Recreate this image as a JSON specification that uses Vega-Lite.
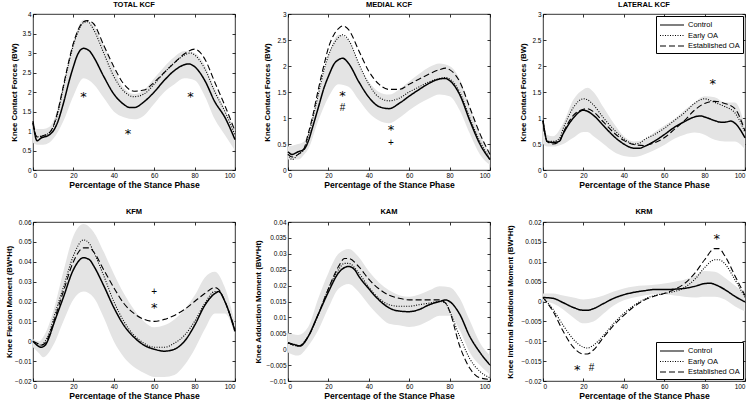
{
"$schema": "https://vega.github.io/schema/vega-lite/v6.json",
"padding": {"left": 4, "top": 0, "right": 0, "bottom": 0},
"config": {
  "font": "Liberation Sans",
  "view": {"stroke": "black", "strokeWidth": 0.8},
  "text": {"color": "black"},
  "axis": {"grid": false, "domain": false, "tickColor": "black", "tickSize": -3, "tickWidth": 0.8, "labelPadding": 5, "labelFontSize": 6.5, "labelColor": "black", "titleFontSize": 7.8, "titleFontWeight": "bold", "titleColor": "black", "labelFont": "Liberation Sans", "titleFont": "Liberation Sans"},
  "axisX": {"titleFontSize": 8.6, "titlePadding": 1.5},
  "title": {"fontSize": 7.5, "fontWeight": "bold", "offset": 3, "color": "black", "font": "Liberation Sans"},
  "legend": {"offset": 2, "strokeColor": "black", "fillColor": "white", "padding": 3, "symbolType": "M-2.4,0H2.4", "symbolSize": 100, "symbolOffset": 7, "symbolStrokeColor": "black", "symbolStrokeWidth": 1.2, "labelFontSize": 7.5, "rowPadding": 0.5, "labelOffset": 10, "cornerRadius": 0, "labelColor": "black"}
},
"datasets": {
"lines": [
{"p":"T","s":"C","x":0,"y":1.25},{"p":"T","s":"C","x":1,"y":0.9},{"p":"T","s":"C","x":2,"y":0.75},{"p":"T","s":"C","x":4,"y":0.82},{"p":"T","s":"C","x":8,"y":0.9},{"p":"T","s":"C","x":10,"y":1.0},{"p":"T","s":"C","x":12,"y":1.2},{"p":"T","s":"C","x":15,"y":1.7},{"p":"T","s":"C","x":18,"y":2.3},{"p":"T","s":"C","x":20,"y":2.65},{"p":"T","s":"C","x":22,"y":2.95},{"p":"T","s":"C","x":25,"y":3.12},{"p":"T","s":"C","x":28,"y":3.05},{"p":"T","s":"C","x":30,"y":2.9},{"p":"T","s":"C","x":35,"y":2.4},{"p":"T","s":"C","x":40,"y":1.95},{"p":"T","s":"C","x":45,"y":1.68},{"p":"T","s":"C","x":48,"y":1.6},{"p":"T","s":"C","x":50,"y":1.6},{"p":"T","s":"C","x":55,"y":1.75},{"p":"T","s":"C","x":60,"y":2.0},{"p":"T","s":"C","x":65,"y":2.3},{"p":"T","s":"C","x":70,"y":2.55},{"p":"T","s":"C","x":75,"y":2.7},{"p":"T","s":"C","x":77,"y":2.72},{"p":"T","s":"C","x":80,"y":2.65},{"p":"T","s":"C","x":85,"y":2.3},{"p":"T","s":"C","x":90,"y":1.75},{"p":"T","s":"C","x":95,"y":1.35},{"p":"T","s":"C","x":100,"y":0.78},
{"p":"T","s":"E","x":0,"y":1.2},{"p":"T","s":"E","x":1,"y":0.95},{"p":"T","s":"E","x":2,"y":0.85},{"p":"T","s":"E","x":5,"y":0.88},{"p":"T","s":"E","x":8,"y":0.95},{"p":"T","s":"E","x":10,"y":1.1},{"p":"T","s":"E","x":12,"y":1.4},{"p":"T","s":"E","x":15,"y":2.1},{"p":"T","s":"E","x":18,"y":2.8},{"p":"T","s":"E","x":20,"y":3.2},{"p":"T","s":"E","x":22,"y":3.5},{"p":"T","s":"E","x":25,"y":3.78},{"p":"T","s":"E","x":27,"y":3.8},{"p":"T","s":"E","x":30,"y":3.6},{"p":"T","s":"E","x":35,"y":3.0},{"p":"T","s":"E","x":40,"y":2.4},{"p":"T","s":"E","x":45,"y":2.02},{"p":"T","s":"E","x":50,"y":1.88},{"p":"T","s":"E","x":55,"y":1.95},{"p":"T","s":"E","x":60,"y":2.2},{"p":"T","s":"E","x":65,"y":2.5},{"p":"T","s":"E","x":70,"y":2.75},{"p":"T","s":"E","x":75,"y":2.95},{"p":"T","s":"E","x":78,"y":3.0},{"p":"T","s":"E","x":80,"y":2.95},{"p":"T","s":"E","x":85,"y":2.6},{"p":"T","s":"E","x":90,"y":2.0},{"p":"T","s":"E","x":95,"y":1.5},{"p":"T","s":"E","x":100,"y":0.9},
{"p":"T","s":"D","x":0,"y":1.2},{"p":"T","s":"D","x":1,"y":0.95},{"p":"T","s":"D","x":2,"y":0.85},{"p":"T","s":"D","x":5,"y":0.88},{"p":"T","s":"D","x":8,"y":0.95},{"p":"T","s":"D","x":10,"y":1.12},{"p":"T","s":"D","x":12,"y":1.45},{"p":"T","s":"D","x":15,"y":2.15},{"p":"T","s":"D","x":18,"y":2.85},{"p":"T","s":"D","x":20,"y":3.25},{"p":"T","s":"D","x":22,"y":3.55},{"p":"T","s":"D","x":25,"y":3.8},{"p":"T","s":"D","x":27,"y":3.83},{"p":"T","s":"D","x":30,"y":3.75},{"p":"T","s":"D","x":35,"y":3.2},{"p":"T","s":"D","x":40,"y":2.65},{"p":"T","s":"D","x":45,"y":2.2},{"p":"T","s":"D","x":50,"y":2.02},{"p":"T","s":"D","x":55,"y":2.05},{"p":"T","s":"D","x":60,"y":2.25},{"p":"T","s":"D","x":65,"y":2.5},{"p":"T","s":"D","x":70,"y":2.75},{"p":"T","s":"D","x":75,"y":2.98},{"p":"T","s":"D","x":80,"y":3.1},{"p":"T","s":"D","x":82,"y":3.05},{"p":"T","s":"D","x":85,"y":2.85},{"p":"T","s":"D","x":90,"y":2.25},{"p":"T","s":"D","x":95,"y":1.65},{"p":"T","s":"D","x":100,"y":1.0},
{"p":"M","s":"C","x":0,"y":0.35},{"p":"M","s":"C","x":2,"y":0.3},{"p":"M","s":"C","x":5,"y":0.35},{"p":"M","s":"C","x":8,"y":0.4},{"p":"M","s":"C","x":10,"y":0.55},{"p":"M","s":"C","x":12,"y":0.8},{"p":"M","s":"C","x":15,"y":1.2},{"p":"M","s":"C","x":18,"y":1.6},{"p":"M","s":"C","x":20,"y":1.8},{"p":"M","s":"C","x":23,"y":2.05},{"p":"M","s":"C","x":25,"y":2.12},{"p":"M","s":"C","x":27,"y":2.15},{"p":"M","s":"C","x":30,"y":2.05},{"p":"M","s":"C","x":35,"y":1.7},{"p":"M","s":"C","x":40,"y":1.4},{"p":"M","s":"C","x":45,"y":1.22},{"p":"M","s":"C","x":50,"y":1.18},{"p":"M","s":"C","x":55,"y":1.28},{"p":"M","s":"C","x":60,"y":1.42},{"p":"M","s":"C","x":65,"y":1.55},{"p":"M","s":"C","x":70,"y":1.67},{"p":"M","s":"C","x":75,"y":1.75},{"p":"M","s":"C","x":78,"y":1.76},{"p":"M","s":"C","x":80,"y":1.72},{"p":"M","s":"C","x":85,"y":1.45},{"p":"M","s":"C","x":90,"y":0.95},{"p":"M","s":"C","x":95,"y":0.5},{"p":"M","s":"C","x":100,"y":0.2},
{"p":"M","s":"E","x":0,"y":0.3},{"p":"M","s":"E","x":2,"y":0.2},{"p":"M","s":"E","x":5,"y":0.3},{"p":"M","s":"E","x":8,"y":0.4},{"p":"M","s":"E","x":10,"y":0.65},{"p":"M","s":"E","x":12,"y":0.95},{"p":"M","s":"E","x":15,"y":1.45},{"p":"M","s":"E","x":18,"y":1.95},{"p":"M","s":"E","x":20,"y":2.2},{"p":"M","s":"E","x":23,"y":2.45},{"p":"M","s":"E","x":25,"y":2.55},{"p":"M","s":"E","x":27,"y":2.6},{"p":"M","s":"E","x":30,"y":2.5},{"p":"M","s":"E","x":35,"y":2.05},{"p":"M","s":"E","x":40,"y":1.65},{"p":"M","s":"E","x":45,"y":1.4},{"p":"M","s":"E","x":50,"y":1.33},{"p":"M","s":"E","x":55,"y":1.38},{"p":"M","s":"E","x":60,"y":1.5},{"p":"M","s":"E","x":65,"y":1.6},{"p":"M","s":"E","x":70,"y":1.7},{"p":"M","s":"E","x":75,"y":1.76},{"p":"M","s":"E","x":78,"y":1.78},{"p":"M","s":"E","x":80,"y":1.75},{"p":"M","s":"E","x":85,"y":1.5},{"p":"M","s":"E","x":90,"y":1.0},{"p":"M","s":"E","x":95,"y":0.55},{"p":"M","s":"E","x":100,"y":0.22},
{"p":"M","s":"D","x":0,"y":0.3},{"p":"M","s":"D","x":2,"y":0.25},{"p":"M","s":"D","x":5,"y":0.3},{"p":"M","s":"D","x":8,"y":0.42},{"p":"M","s":"D","x":10,"y":0.7},{"p":"M","s":"D","x":12,"y":1.0},{"p":"M","s":"D","x":15,"y":1.55},{"p":"M","s":"D","x":18,"y":2.05},{"p":"M","s":"D","x":20,"y":2.35},{"p":"M","s":"D","x":23,"y":2.62},{"p":"M","s":"D","x":25,"y":2.72},{"p":"M","s":"D","x":27,"y":2.77},{"p":"M","s":"D","x":30,"y":2.7},{"p":"M","s":"D","x":35,"y":2.3},{"p":"M","s":"D","x":40,"y":1.9},{"p":"M","s":"D","x":45,"y":1.65},{"p":"M","s":"D","x":50,"y":1.55},{"p":"M","s":"D","x":55,"y":1.55},{"p":"M","s":"D","x":60,"y":1.65},{"p":"M","s":"D","x":65,"y":1.75},{"p":"M","s":"D","x":70,"y":1.85},{"p":"M","s":"D","x":75,"y":1.93},{"p":"M","s":"D","x":78,"y":1.96},{"p":"M","s":"D","x":80,"y":1.93},{"p":"M","s":"D","x":85,"y":1.7},{"p":"M","s":"D","x":90,"y":1.2},{"p":"M","s":"D","x":95,"y":0.7},{"p":"M","s":"D","x":100,"y":0.3},
{"p":"L","s":"C","x":0,"y":0.95},{"p":"L","s":"C","x":1,"y":0.7},{"p":"L","s":"C","x":2,"y":0.55},{"p":"L","s":"C","x":5,"y":0.53},{"p":"L","s":"C","x":8,"y":0.55},{"p":"L","s":"C","x":10,"y":0.7},{"p":"L","s":"C","x":15,"y":1.0},{"p":"L","s":"C","x":20,"y":1.15},{"p":"L","s":"C","x":22,"y":1.13},{"p":"L","s":"C","x":25,"y":1.05},{"p":"L","s":"C","x":30,"y":0.85},{"p":"L","s":"C","x":35,"y":0.65},{"p":"L","s":"C","x":40,"y":0.5},{"p":"L","s":"C","x":45,"y":0.42},{"p":"L","s":"C","x":48,"y":0.42},{"p":"L","s":"C","x":50,"y":0.45},{"p":"L","s":"C","x":55,"y":0.55},{"p":"L","s":"C","x":60,"y":0.68},{"p":"L","s":"C","x":65,"y":0.82},{"p":"L","s":"C","x":70,"y":0.93},{"p":"L","s":"C","x":75,"y":1.02},{"p":"L","s":"C","x":78,"y":1.04},{"p":"L","s":"C","x":80,"y":1.02},{"p":"L","s":"C","x":85,"y":0.95},{"p":"L","s":"C","x":88,"y":0.92},{"p":"L","s":"C","x":90,"y":0.92},{"p":"L","s":"C","x":93,"y":0.94},{"p":"L","s":"C","x":95,"y":0.9},{"p":"L","s":"C","x":100,"y":0.62},
{"p":"L","s":"E","x":0,"y":0.95},{"p":"L","s":"E","x":1,"y":0.7},{"p":"L","s":"E","x":2,"y":0.55},{"p":"L","s":"E","x":5,"y":0.55},{"p":"L","s":"E","x":8,"y":0.6},{"p":"L","s":"E","x":10,"y":0.8},{"p":"L","s":"E","x":15,"y":1.2},{"p":"L","s":"E","x":20,"y":1.37},{"p":"L","s":"E","x":22,"y":1.35},{"p":"L","s":"E","x":25,"y":1.25},{"p":"L","s":"E","x":30,"y":1.0},{"p":"L","s":"E","x":35,"y":0.78},{"p":"L","s":"E","x":40,"y":0.6},{"p":"L","s":"E","x":45,"y":0.5},{"p":"L","s":"E","x":48,"y":0.52},{"p":"L","s":"E","x":50,"y":0.58},{"p":"L","s":"E","x":55,"y":0.68},{"p":"L","s":"E","x":60,"y":0.8},{"p":"L","s":"E","x":65,"y":0.95},{"p":"L","s":"E","x":70,"y":1.1},{"p":"L","s":"E","x":75,"y":1.28},{"p":"L","s":"E","x":80,"y":1.37},{"p":"L","s":"E","x":82,"y":1.35},{"p":"L","s":"E","x":85,"y":1.3},{"p":"L","s":"E","x":90,"y":1.22},{"p":"L","s":"E","x":95,"y":1.1},{"p":"L","s":"E","x":100,"y":0.72},
{"p":"L","s":"D","x":0,"y":0.95},{"p":"L","s":"D","x":1,"y":0.7},{"p":"L","s":"D","x":2,"y":0.55},{"p":"L","s":"D","x":5,"y":0.5},{"p":"L","s":"D","x":8,"y":0.55},{"p":"L","s":"D","x":10,"y":0.72},{"p":"L","s":"D","x":15,"y":1.05},{"p":"L","s":"D","x":20,"y":1.17},{"p":"L","s":"D","x":22,"y":1.18},{"p":"L","s":"D","x":25,"y":1.12},{"p":"L","s":"D","x":30,"y":0.92},{"p":"L","s":"D","x":35,"y":0.72},{"p":"L","s":"D","x":40,"y":0.57},{"p":"L","s":"D","x":45,"y":0.49},{"p":"L","s":"D","x":50,"y":0.47},{"p":"L","s":"D","x":55,"y":0.52},{"p":"L","s":"D","x":60,"y":0.62},{"p":"L","s":"D","x":65,"y":0.78},{"p":"L","s":"D","x":70,"y":0.95},{"p":"L","s":"D","x":75,"y":1.15},{"p":"L","s":"D","x":80,"y":1.28},{"p":"L","s":"D","x":85,"y":1.32},{"p":"L","s":"D","x":90,"y":1.28},{"p":"L","s":"D","x":95,"y":1.18},{"p":"L","s":"D","x":100,"y":0.75},
{"p":"F","s":"C","x":0,"y":0},{"p":"F","s":"C","x":2,"y":-0.002},{"p":"F","s":"C","x":4,"y":-0.003},{"p":"F","s":"C","x":6,"y":-0.002},{"p":"F","s":"C","x":8,"y":0.002},{"p":"F","s":"C","x":10,"y":0.008},{"p":"F","s":"C","x":15,"y":0.022},{"p":"F","s":"C","x":20,"y":0.036},{"p":"F","s":"C","x":25,"y":0.042},{"p":"F","s":"C","x":28,"y":0.041},{"p":"F","s":"C","x":30,"y":0.038},{"p":"F","s":"C","x":35,"y":0.028},{"p":"F","s":"C","x":40,"y":0.017},{"p":"F","s":"C","x":45,"y":0.008},{"p":"F","s":"C","x":50,"y":0.002},{"p":"F","s":"C","x":55,"y":-0.002},{"p":"F","s":"C","x":60,"y":-0.004},{"p":"F","s":"C","x":65,"y":-0.005},{"p":"F","s":"C","x":70,"y":-0.004},{"p":"F","s":"C","x":75,"y":0.0},{"p":"F","s":"C","x":80,"y":0.008},{"p":"F","s":"C","x":85,"y":0.018},{"p":"F","s":"C","x":90,"y":0.024},{"p":"F","s":"C","x":92,"y":0.025},{"p":"F","s":"C","x":95,"y":0.02},{"p":"F","s":"C","x":100,"y":0.005},
{"p":"F","s":"E","x":0,"y":0},{"p":"F","s":"E","x":2,"y":-0.001},{"p":"F","s":"E","x":4,"y":-0.002},{"p":"F","s":"E","x":6,"y":0.0},{"p":"F","s":"E","x":8,"y":0.004},{"p":"F","s":"E","x":10,"y":0.011},{"p":"F","s":"E","x":15,"y":0.027},{"p":"F","s":"E","x":20,"y":0.043},{"p":"F","s":"E","x":25,"y":0.051},{"p":"F","s":"E","x":28,"y":0.049},{"p":"F","s":"E","x":30,"y":0.045},{"p":"F","s":"E","x":35,"y":0.033},{"p":"F","s":"E","x":40,"y":0.02},{"p":"F","s":"E","x":45,"y":0.01},{"p":"F","s":"E","x":50,"y":0.003},{"p":"F","s":"E","x":55,"y":-0.001},{"p":"F","s":"E","x":60,"y":-0.003},{"p":"F","s":"E","x":65,"y":-0.003},{"p":"F","s":"E","x":70,"y":-0.001},{"p":"F","s":"E","x":75,"y":0.003},{"p":"F","s":"E","x":80,"y":0.01},{"p":"F","s":"E","x":85,"y":0.019},{"p":"F","s":"E","x":90,"y":0.025},{"p":"F","s":"E","x":92,"y":0.025},{"p":"F","s":"E","x":95,"y":0.02},{"p":"F","s":"E","x":100,"y":0.005},
{"p":"F","s":"D","x":0,"y":0},{"p":"F","s":"D","x":2,"y":-0.001},{"p":"F","s":"D","x":4,"y":-0.002},{"p":"F","s":"D","x":6,"y":-0.001},{"p":"F","s":"D","x":8,"y":0.003},{"p":"F","s":"D","x":10,"y":0.009},{"p":"F","s":"D","x":15,"y":0.025},{"p":"F","s":"D","x":20,"y":0.04},{"p":"F","s":"D","x":25,"y":0.047},{"p":"F","s":"D","x":28,"y":0.047},{"p":"F","s":"D","x":30,"y":0.045},{"p":"F","s":"D","x":35,"y":0.036},{"p":"F","s":"D","x":40,"y":0.027},{"p":"F","s":"D","x":45,"y":0.019},{"p":"F","s":"D","x":50,"y":0.014},{"p":"F","s":"D","x":55,"y":0.011},{"p":"F","s":"D","x":60,"y":0.01},{"p":"F","s":"D","x":65,"y":0.011},{"p":"F","s":"D","x":70,"y":0.013},{"p":"F","s":"D","x":75,"y":0.016},{"p":"F","s":"D","x":80,"y":0.02},{"p":"F","s":"D","x":85,"y":0.024},{"p":"F","s":"D","x":90,"y":0.027},{"p":"F","s":"D","x":92,"y":0.026},{"p":"F","s":"D","x":95,"y":0.02},{"p":"F","s":"D","x":100,"y":0.006},
{"p":"A","s":"C","x":0,"y":0.002},{"p":"A","s":"C","x":3,"y":0.0015},{"p":"A","s":"C","x":6,"y":0.001},{"p":"A","s":"C","x":8,"y":0.002},{"p":"A","s":"C","x":10,"y":0.004},{"p":"A","s":"C","x":15,"y":0.011},{"p":"A","s":"C","x":20,"y":0.018},{"p":"A","s":"C","x":25,"y":0.024},{"p":"A","s":"C","x":30,"y":0.026},{"p":"A","s":"C","x":33,"y":0.025},{"p":"A","s":"C","x":35,"y":0.023},{"p":"A","s":"C","x":40,"y":0.019},{"p":"A","s":"C","x":45,"y":0.0155},{"p":"A","s":"C","x":50,"y":0.013},{"p":"A","s":"C","x":55,"y":0.012},{"p":"A","s":"C","x":60,"y":0.0118},{"p":"A","s":"C","x":65,"y":0.0125},{"p":"A","s":"C","x":70,"y":0.014},{"p":"A","s":"C","x":75,"y":0.015},{"p":"A","s":"C","x":78,"y":0.0155},{"p":"A","s":"C","x":80,"y":0.015},{"p":"A","s":"C","x":85,"y":0.011},{"p":"A","s":"C","x":90,"y":0.004},{"p":"A","s":"C","x":95,"y":-0.001},{"p":"A","s":"C","x":100,"y":-0.005},
{"p":"A","s":"E","x":0,"y":0.002},{"p":"A","s":"E","x":5,"y":0.001},{"p":"A","s":"E","x":10,"y":0.004},{"p":"A","s":"E","x":15,"y":0.011},{"p":"A","s":"E","x":20,"y":0.019},{"p":"A","s":"E","x":25,"y":0.025},{"p":"A","s":"E","x":28,"y":0.027},{"p":"A","s":"E","x":30,"y":0.027},{"p":"A","s":"E","x":35,"y":0.024},{"p":"A","s":"E","x":40,"y":0.0195},{"p":"A","s":"E","x":45,"y":0.016},{"p":"A","s":"E","x":50,"y":0.014},{"p":"A","s":"E","x":55,"y":0.0135},{"p":"A","s":"E","x":60,"y":0.0135},{"p":"A","s":"E","x":65,"y":0.014},{"p":"A","s":"E","x":70,"y":0.0145},{"p":"A","s":"E","x":75,"y":0.015},{"p":"A","s":"E","x":78,"y":0.0145},{"p":"A","s":"E","x":80,"y":0.012},{"p":"A","s":"E","x":85,"y":0.004},{"p":"A","s":"E","x":90,"y":-0.003},{"p":"A","s":"E","x":95,"y":-0.007},{"p":"A","s":"E","x":100,"y":-0.009},
{"p":"A","s":"D","x":0,"y":0.002},{"p":"A","s":"D","x":5,"y":0.001},{"p":"A","s":"D","x":10,"y":0.004},{"p":"A","s":"D","x":15,"y":0.011},{"p":"A","s":"D","x":20,"y":0.019},{"p":"A","s":"D","x":25,"y":0.026},{"p":"A","s":"D","x":28,"y":0.0285},{"p":"A","s":"D","x":30,"y":0.0285},{"p":"A","s":"D","x":35,"y":0.026},{"p":"A","s":"D","x":40,"y":0.022},{"p":"A","s":"D","x":45,"y":0.019},{"p":"A","s":"D","x":50,"y":0.017},{"p":"A","s":"D","x":55,"y":0.016},{"p":"A","s":"D","x":60,"y":0.0155},{"p":"A","s":"D","x":65,"y":0.0155},{"p":"A","s":"D","x":70,"y":0.0155},{"p":"A","s":"D","x":75,"y":0.0155},{"p":"A","s":"D","x":78,"y":0.0145},{"p":"A","s":"D","x":80,"y":0.012},{"p":"A","s":"D","x":85,"y":0.001},{"p":"A","s":"D","x":90,"y":-0.006},{"p":"A","s":"D","x":95,"y":-0.009},{"p":"A","s":"D","x":100,"y":-0.0095},
{"p":"R","s":"C","x":0,"y":0.001},{"p":"R","s":"C","x":5,"y":0.0008},{"p":"R","s":"C","x":10,"y":-0.0003},{"p":"R","s":"C","x":15,"y":-0.0015},{"p":"R","s":"C","x":20,"y":-0.0022},{"p":"R","s":"C","x":22,"y":-0.0022},{"p":"R","s":"C","x":25,"y":-0.0018},{"p":"R","s":"C","x":30,"y":-0.0005},{"p":"R","s":"C","x":35,"y":0.0008},{"p":"R","s":"C","x":40,"y":0.0017},{"p":"R","s":"C","x":45,"y":0.0023},{"p":"R","s":"C","x":50,"y":0.0027},{"p":"R","s":"C","x":55,"y":0.003},{"p":"R","s":"C","x":60,"y":0.003},{"p":"R","s":"C","x":65,"y":0.0031},{"p":"R","s":"C","x":70,"y":0.0033},{"p":"R","s":"C","x":75,"y":0.0038},{"p":"R","s":"C","x":80,"y":0.0045},{"p":"R","s":"C","x":83,"y":0.0046},{"p":"R","s":"C","x":85,"y":0.0043},{"p":"R","s":"C","x":90,"y":0.003},{"p":"R","s":"C","x":95,"y":0.0013},{"p":"R","s":"C","x":100,"y":-0.0001},
{"p":"R","s":"E","x":0,"y":0.001},{"p":"R","s":"E","x":5,"y":-0.002},{"p":"R","s":"E","x":10,"y":-0.006},{"p":"R","s":"E","x":15,"y":-0.0095},{"p":"R","s":"E","x":20,"y":-0.0115},{"p":"R","s":"E","x":22,"y":-0.0117},{"p":"R","s":"E","x":25,"y":-0.011},{"p":"R","s":"E","x":30,"y":-0.0085},{"p":"R","s":"E","x":35,"y":-0.0055},{"p":"R","s":"E","x":40,"y":-0.003},{"p":"R","s":"E","x":45,"y":-0.001},{"p":"R","s":"E","x":50,"y":0.0005},{"p":"R","s":"E","x":55,"y":0.0015},{"p":"R","s":"E","x":60,"y":0.002},{"p":"R","s":"E","x":65,"y":0.0025},{"p":"R","s":"E","x":70,"y":0.0035},{"p":"R","s":"E","x":75,"y":0.0055},{"p":"R","s":"E","x":80,"y":0.0085},{"p":"R","s":"E","x":85,"y":0.0105},{"p":"R","s":"E","x":87,"y":0.0105},{"p":"R","s":"E","x":90,"y":0.0095},{"p":"R","s":"E","x":95,"y":0.0055},{"p":"R","s":"E","x":100,"y":0.001},
{"p":"R","s":"D","x":0,"y":0.001},{"p":"R","s":"D","x":5,"y":-0.0025},{"p":"R","s":"D","x":10,"y":-0.0075},{"p":"R","s":"D","x":15,"y":-0.0115},{"p":"R","s":"D","x":20,"y":-0.0132},{"p":"R","s":"D","x":22,"y":-0.0132},{"p":"R","s":"D","x":25,"y":-0.0122},{"p":"R","s":"D","x":30,"y":-0.009},{"p":"R","s":"D","x":35,"y":-0.006},{"p":"R","s":"D","x":40,"y":-0.0035},{"p":"R","s":"D","x":45,"y":-0.0013},{"p":"R","s":"D","x":50,"y":0.0003},{"p":"R","s":"D","x":55,"y":0.0013},{"p":"R","s":"D","x":60,"y":0.002},{"p":"R","s":"D","x":65,"y":0.003},{"p":"R","s":"D","x":70,"y":0.0045},{"p":"R","s":"D","x":75,"y":0.007},{"p":"R","s":"D","x":80,"y":0.0105},{"p":"R","s":"D","x":85,"y":0.0133},{"p":"R","s":"D","x":87,"y":0.0133},{"p":"R","s":"D","x":90,"y":0.0115},{"p":"R","s":"D","x":95,"y":0.0065},{"p":"R","s":"D","x":100,"y":0.0015}
],
"band": [
{"p":"T","x":0,"lo":0.7,"hi":1.1},{"p":"T","x":2,"lo":0.65,"hi":1.05},{"p":"T","x":5,"lo":0.65,"hi":1.05},{"p":"T","x":8,"lo":0.7,"hi":1.1},{"p":"T","x":10,"lo":0.8,"hi":1.25},{"p":"T","x":15,"lo":1.25,"hi":2.2},{"p":"T","x":20,"lo":1.9,"hi":3.3},{"p":"T","x":25,"lo":2.35,"hi":3.85},{"p":"T","x":30,"lo":2.2,"hi":3.7},{"p":"T","x":35,"lo":1.85,"hi":3.2},{"p":"T","x":40,"lo":1.5,"hi":2.6},{"p":"T","x":45,"lo":1.35,"hi":2.1},{"p":"T","x":50,"lo":1.3,"hi":1.95},{"p":"T","x":55,"lo":1.4,"hi":2.05},{"p":"T","x":60,"lo":1.7,"hi":2.35},{"p":"T","x":65,"lo":2.0,"hi":2.65},{"p":"T","x":70,"lo":2.2,"hi":2.9},{"p":"T","x":75,"lo":2.35,"hi":3.05},{"p":"T","x":80,"lo":2.3,"hi":3.0},{"p":"T","x":85,"lo":1.9,"hi":2.7},{"p":"T","x":90,"lo":1.3,"hi":2.1},{"p":"T","x":95,"lo":0.9,"hi":1.55},{"p":"T","x":100,"lo":0.5,"hi":1.0},
{"p":"M","x":0,"lo":0.2,"hi":0.45},{"p":"M","x":5,"lo":0.2,"hi":0.5},{"p":"M","x":8,"lo":0.3,"hi":0.55},{"p":"M","x":10,"lo":0.4,"hi":0.7},{"p":"M","x":15,"lo":0.95,"hi":1.45},{"p":"M","x":20,"lo":1.4,"hi":2.2},{"p":"M","x":25,"lo":1.65,"hi":2.6},{"p":"M","x":30,"lo":1.6,"hi":2.5},{"p":"M","x":35,"lo":1.35,"hi":2.05},{"p":"M","x":40,"lo":1.1,"hi":1.7},{"p":"M","x":45,"lo":0.95,"hi":1.5},{"p":"M","x":50,"lo":0.9,"hi":1.45},{"p":"M","x":55,"lo":1.0,"hi":1.55},{"p":"M","x":60,"lo":1.15,"hi":1.7},{"p":"M","x":65,"lo":1.28,"hi":1.85},{"p":"M","x":70,"lo":1.38,"hi":1.98},{"p":"M","x":75,"lo":1.45,"hi":2.05},{"p":"M","x":80,"lo":1.42,"hi":2.0},{"p":"M","x":85,"lo":1.15,"hi":1.75},{"p":"M","x":90,"lo":0.7,"hi":1.2},{"p":"M","x":95,"lo":0.3,"hi":0.7},{"p":"M","x":100,"lo":0.1,"hi":0.3},
{"p":"L","x":0,"lo":0.5,"hi":0.75},{"p":"L","x":2,"lo":0.45,"hi":0.68},{"p":"L","x":5,"lo":0.45,"hi":0.65},{"p":"L","x":10,"lo":0.5,"hi":0.9},{"p":"L","x":15,"lo":0.62,"hi":1.35},{"p":"L","x":20,"lo":0.73,"hi":1.55},{"p":"L","x":22,"lo":0.73,"hi":1.58},{"p":"L","x":25,"lo":0.65,"hi":1.5},{"p":"L","x":30,"lo":0.5,"hi":1.2},{"p":"L","x":35,"lo":0.35,"hi":0.9},{"p":"L","x":40,"lo":0.27,"hi":0.65},{"p":"L","x":45,"lo":0.25,"hi":0.55},{"p":"L","x":50,"lo":0.3,"hi":0.58},{"p":"L","x":55,"lo":0.38,"hi":0.72},{"p":"L","x":60,"lo":0.48,"hi":0.85},{"p":"L","x":65,"lo":0.6,"hi":0.98},{"p":"L","x":70,"lo":0.68,"hi":1.15},{"p":"L","x":75,"lo":0.72,"hi":1.3},{"p":"L","x":80,"lo":0.68,"hi":1.42},{"p":"L","x":85,"lo":0.58,"hi":1.4},{"p":"L","x":90,"lo":0.55,"hi":1.3},{"p":"L","x":95,"lo":0.55,"hi":1.3},{"p":"L","x":100,"lo":0.4,"hi":0.85},
{"p":"F","x":0,"lo":-0.003,"hi":0.001},{"p":"F","x":3,"lo":-0.006,"hi":0.0},{"p":"F","x":5,"lo":-0.008,"hi":0.002},{"p":"F","x":10,"lo":-0.002,"hi":0.015},{"p":"F","x":15,"lo":0.01,"hi":0.035},{"p":"F","x":20,"lo":0.021,"hi":0.053},{"p":"F","x":25,"lo":0.025,"hi":0.059},{"p":"F","x":30,"lo":0.022,"hi":0.055},{"p":"F","x":35,"lo":0.012,"hi":0.045},{"p":"F","x":40,"lo":0.0,"hi":0.034},{"p":"F","x":45,"lo":-0.008,"hi":0.024},{"p":"F","x":50,"lo":-0.013,"hi":0.016},{"p":"F","x":55,"lo":-0.016,"hi":0.01},{"p":"F","x":60,"lo":-0.018,"hi":0.007},{"p":"F","x":65,"lo":-0.018,"hi":0.008},{"p":"F","x":70,"lo":-0.017,"hi":0.011},{"p":"F","x":75,"lo":-0.012,"hi":0.016},{"p":"F","x":80,"lo":-0.004,"hi":0.023},{"p":"F","x":85,"lo":0.006,"hi":0.032},{"p":"F","x":90,"lo":0.014,"hi":0.035},{"p":"F","x":95,"lo":0.014,"hi":0.027},{"p":"F","x":100,"lo":0.003,"hi":0.009},
{"p":"A","x":0,"lo":-0.001,"hi":0.005},{"p":"A","x":5,"lo":-0.002,"hi":0.0045},{"p":"A","x":10,"lo":0.001,"hi":0.007},{"p":"A","x":15,"lo":0.006,"hi":0.016},{"p":"A","x":20,"lo":0.013,"hi":0.024},{"p":"A","x":25,"lo":0.019,"hi":0.03},{"p":"A","x":30,"lo":0.0205,"hi":0.0315},{"p":"A","x":35,"lo":0.018,"hi":0.029},{"p":"A","x":40,"lo":0.014,"hi":0.0245},{"p":"A","x":45,"lo":0.0105,"hi":0.021},{"p":"A","x":50,"lo":0.008,"hi":0.0185},{"p":"A","x":55,"lo":0.0075,"hi":0.017},{"p":"A","x":60,"lo":0.007,"hi":0.0165},{"p":"A","x":65,"lo":0.0075,"hi":0.0172},{"p":"A","x":70,"lo":0.009,"hi":0.0185},{"p":"A","x":75,"lo":0.0105,"hi":0.0198},{"p":"A","x":80,"lo":0.0105,"hi":0.0195},{"p":"A","x":85,"lo":0.006,"hi":0.016},{"p":"A","x":90,"lo":-0.001,"hi":0.009},{"p":"A","x":95,"lo":-0.005,"hi":0.002},{"p":"A","x":100,"lo":-0.008,"hi":-0.002},
{"p":"R","x":0,"lo":0.0,"hi":0.002},{"p":"R","x":5,"lo":-0.0005,"hi":0.002},{"p":"R","x":10,"lo":-0.002,"hi":0.0015},{"p":"R","x":15,"lo":-0.004,"hi":0.001},{"p":"R","x":20,"lo":-0.0055,"hi":0.0005},{"p":"R","x":25,"lo":-0.005,"hi":0.0008},{"p":"R","x":30,"lo":-0.003,"hi":0.0015},{"p":"R","x":35,"lo":-0.001,"hi":0.0025},{"p":"R","x":40,"lo":0.0003,"hi":0.0033},{"p":"R","x":45,"lo":0.001,"hi":0.0038},{"p":"R","x":50,"lo":0.0015,"hi":0.004},{"p":"R","x":55,"lo":0.0018,"hi":0.0042},{"p":"R","x":60,"lo":0.0018,"hi":0.0045},{"p":"R","x":65,"lo":0.0015,"hi":0.005},{"p":"R","x":70,"lo":0.0012,"hi":0.0055},{"p":"R","x":75,"lo":0.001,"hi":0.0065},{"p":"R","x":80,"lo":0.0012,"hi":0.0077},{"p":"R","x":85,"lo":0.0012,"hi":0.0075},{"p":"R","x":90,"lo":0.0005,"hi":0.006},{"p":"R","x":95,"lo":-0.0012,"hi":0.004},{"p":"R","x":100,"lo":-0.0025,"hi":0.002}
],
"ann": [
{"p":"T","x":25,"y":1.95,"t":"*"},{"p":"T","x":47,"y":1.0,"t":"*"},{"p":"T","x":78,"y":1.95,"t":"*"},
{"p":"M","x":27,"y":1.48,"t":"*"},{"p":"M","x":27,"y":1.2,"t":"#"},{"p":"M","x":51,"y":0.83,"t":"*"},{"p":"M","x":51,"y":0.53,"t":"+"},
{"p":"L","x":84,"y":1.72,"t":"*"},
{"p":"F","x":60,"y":0.025,"t":"+"},{"p":"F","x":60,"y":0.018,"t":"*"},
{"p":"R","x":86,"y":0.0165,"t":"*"},{"p":"R","x":17,"y":-0.0165,"t":"*"},{"p":"R","x":24,"y":-0.0165,"t":"#"}
]
},
"spacing": 18,
"resolve": {"scale": {"strokeDash": "independent"}, "legend": {"strokeDash": "independent"}},
"vconcat": [
{"hconcat": [
 {"width": 202, "height": 156, "title": "TOTAL KCF",
  "resolve": {"axis": {"x": "independent", "y": "independent"}},
  "layer": [
   {"data": {"name": "band"}, "transform": [{"filter": "datum.p=='T'"}], "mark": {"type": "area", "interpolate": "monotone", "color": "#e4e4e4"},
    "encoding": {"x": {"field": "x", "type": "quantitative", "scale": {"domain": [0, 100]}, "axis": {"values": [0,20,40,60,80,100], "title": "Percentage of the Stance Phase"}},
     "y": {"field": "lo", "type": "quantitative", "scale": {"domain": [0, 4]}, "axis": {"values": [0,0.5,1,1.5,2,2.5,3,3.5,4], "format": "~g", "title": "Knee Contact Forces (BW)", "minExtent": 12, "maxExtent": 12, "titlePadding": 3}},
     "y2": {"field": "hi"}}},
   {"data": {"name": "lines"}, "transform": [{"filter": "datum.p=='T'"}], "mark": {"type": "line", "interpolate": "monotone", "color": "black"},
    "encoding": {"x": {"field": "x", "type": "quantitative", "axis": {"orient": "top", "labels": false, "title": null, "values": [0,20,40,60,80,100]}},
     "y": {"field": "y", "type": "quantitative", "axis": {"orient": "right", "labels": false, "title": null, "values": [0,0.5,1,1.5,2,2.5,3,3.5,4]}},
     "strokeDash": {"field": "s", "type": "nominal", "scale": {"domain": ["C","E","D"], "range": [[1,0],[1,1.5],[6,3]]}, "legend": null},
     "strokeWidth": {"condition": {"test": "datum.s=='C'", "value": 1.5}, "value": 1.1}}},
   {"data": {"name": "ann"}, "transform": [{"filter": "datum.p=='T' && datum.t=='*'"}], "mark": {"type": "text", "fontSize": 13, "dy": 7, "baseline": "alphabetic", "font": "DejaVu Sans", "color": "black"},
    "encoding": {"x": {"field": "x", "type": "quantitative", "axis": null}, "y": {"field": "y", "type": "quantitative", "axis": null}, "text": {"field": "t"}}}
  ]},
 {"width": 202, "height": 156, "title": "MEDIAL KCF",
  "resolve": {"axis": {"x": "independent", "y": "independent"}},
  "layer": [
   {"data": {"name": "band"}, "transform": [{"filter": "datum.p=='M'"}], "mark": {"type": "area", "interpolate": "monotone", "color": "#e4e4e4"},
    "encoding": {"x": {"field": "x", "type": "quantitative", "scale": {"domain": [0, 100]}, "axis": {"values": [0,20,40,60,80,100], "title": "Percentage of the Stance Phase"}},
     "y": {"field": "lo", "type": "quantitative", "scale": {"domain": [0, 3]}, "axis": {"values": [0,0.5,1,1.5,2,2.5,3], "format": "~g", "title": "Knee Contact Forces (BW)", "minExtent": 14, "maxExtent": 14, "titlePadding": 3}},
     "y2": {"field": "hi"}}},
   {"data": {"name": "lines"}, "transform": [{"filter": "datum.p=='M'"}], "mark": {"type": "line", "interpolate": "monotone", "color": "black"},
    "encoding": {"x": {"field": "x", "type": "quantitative", "axis": {"orient": "top", "labels": false, "title": null, "values": [0,20,40,60,80,100]}},
     "y": {"field": "y", "type": "quantitative", "axis": {"orient": "right", "labels": false, "title": null, "values": [0,0.5,1,1.5,2,2.5,3]}},
     "strokeDash": {"field": "s", "type": "nominal", "scale": {"domain": ["C","E","D"], "range": [[1,0],[1,1.5],[6,3]]}, "legend": null},
     "strokeWidth": {"condition": {"test": "datum.s=='C'", "value": 1.5}, "value": 1.1}}},
   {"data": {"name": "ann"}, "transform": [{"filter": "datum.p=='M' && datum.t=='*'"}], "mark": {"type": "text", "fontSize": 13, "dy": 7, "baseline": "alphabetic", "font": "DejaVu Sans", "color": "black"},
    "encoding": {"x": {"field": "x", "type": "quantitative", "axis": null}, "y": {"field": "y", "type": "quantitative", "axis": null}, "text": {"field": "t"}}},
   {"data": {"name": "ann"}, "transform": [{"filter": "datum.p=='M' && datum.t!='*'"}], "mark": {"type": "text", "fontSize": 10, "dy": 3.5, "baseline": "alphabetic", "color": "black"},
    "encoding": {"x": {"field": "x", "type": "quantitative", "axis": null}, "y": {"field": "y", "type": "quantitative", "axis": null}, "text": {"field": "t"}}}
  ]},
 {"width": 202, "height": 156, "title": "LATERAL KCF",
  "resolve": {"axis": {"x": "independent", "y": "independent"}},
  "layer": [
   {"data": {"name": "band"}, "transform": [{"filter": "datum.p=='L'"}], "mark": {"type": "area", "interpolate": "monotone", "color": "#e4e4e4"},
    "encoding": {"x": {"field": "x", "type": "quantitative", "scale": {"domain": [0, 100]}, "axis": {"values": [0,20,40,60,80,100], "title": "Percentage of the Stance Phase"}},
     "y": {"field": "lo", "type": "quantitative", "scale": {"domain": [0, 3]}, "axis": {"values": [0,0.5,1,1.5,2,2.5,3], "format": "~g", "title": "Knee Contact Forces (BW)", "minExtent": 13, "maxExtent": 13, "titlePadding": 3}},
     "y2": {"field": "hi"}}},
   {"data": {"name": "lines"}, "transform": [{"filter": "datum.p=='L'"}], "mark": {"type": "line", "interpolate": "monotone", "color": "black"},
    "encoding": {"x": {"field": "x", "type": "quantitative", "axis": {"orient": "top", "labels": false, "title": null, "values": [0,20,40,60,80,100]}},
     "y": {"field": "y", "type": "quantitative", "axis": {"orient": "right", "labels": false, "title": null, "values": [0,0.5,1,1.5,2,2.5,3]}},
     "strokeDash": {"field": "s", "type": "nominal", "scale": {"domain": ["C","E","D"], "range": [[1,0],[1,1.5],[6,3]]}, "legend": {"title": null, "orient": "top-right", "labelExpr": "datum.label=='C'?'Control':datum.label=='E'?'Early OA':'Established OA'"}},
     "strokeWidth": {"condition": {"test": "datum.s=='C'", "value": 1.5}, "value": 1.1}}},
   {"data": {"name": "ann"}, "transform": [{"filter": "datum.p=='L' && datum.t=='*'"}], "mark": {"type": "text", "fontSize": 13, "dy": 7, "baseline": "alphabetic", "font": "DejaVu Sans", "color": "black"},
    "encoding": {"x": {"field": "x", "type": "quantitative", "axis": null}, "y": {"field": "y", "type": "quantitative", "axis": null}, "text": {"field": "t"}}}
  ]}
 ], "spacing": 53, "bounds": "flush", "resolve": {"scale": {"strokeDash": "independent"}, "legend": {"strokeDash": "independent"}}},
{"hconcat": [
 {"width": 202, "height": 159, "title": {"text": "KFM", "offset": 4},
  "resolve": {"axis": {"x": "independent", "y": "independent"}},
  "layer": [
   {"data": {"name": "band"}, "transform": [{"filter": "datum.p=='F'"}], "mark": {"type": "area", "interpolate": "monotone", "color": "#e4e4e4"},
    "encoding": {"x": {"field": "x", "type": "quantitative", "scale": {"domain": [0, 100]}, "axis": {"values": [0,20,40,60,80,100], "title": "Percentage of the Stance Phase"}},
     "y": {"field": "lo", "type": "quantitative", "scale": {"domain": [-0.02, 0.06]}, "axis": {"values": [-0.02,-0.01,0,0.01,0.02,0.03,0.04,0.05,0.06], "format": "~g", "title": "Knee Flexion Moment (BW*Ht)", "minExtent": 18, "maxExtent": 18, "titlePadding": 2}},
     "y2": {"field": "hi"}}},
   {"data": {"name": "lines"}, "transform": [{"filter": "datum.p=='F'"}], "mark": {"type": "line", "interpolate": "monotone", "color": "black"},
    "encoding": {"x": {"field": "x", "type": "quantitative", "axis": {"orient": "top", "labels": false, "title": null, "values": [0,20,40,60,80,100]}},
     "y": {"field": "y", "type": "quantitative", "axis": {"orient": "right", "labels": false, "title": null, "values": [-0.02,-0.01,0,0.01,0.02,0.03,0.04,0.05,0.06]}},
     "strokeDash": {"field": "s", "type": "nominal", "scale": {"domain": ["C","E","D"], "range": [[1,0],[1,1.5],[6,3]]}, "legend": null},
     "strokeWidth": {"condition": {"test": "datum.s=='C'", "value": 1.5}, "value": 1.1}}},
   {"data": {"name": "ann"}, "transform": [{"filter": "datum.p=='F' && datum.t=='*'"}], "mark": {"type": "text", "fontSize": 13, "dy": 7, "baseline": "alphabetic", "font": "DejaVu Sans", "color": "black"},
    "encoding": {"x": {"field": "x", "type": "quantitative", "axis": null}, "y": {"field": "y", "type": "quantitative", "axis": null}, "text": {"field": "t"}}},
   {"data": {"name": "ann"}, "transform": [{"filter": "datum.p=='F' && datum.t!='*'"}], "mark": {"type": "text", "fontSize": 10, "dy": 3.5, "baseline": "alphabetic", "color": "black"},
    "encoding": {"x": {"field": "x", "type": "quantitative", "axis": null}, "y": {"field": "y", "type": "quantitative", "axis": null}, "text": {"field": "t"}}}
  ]},
 {"width": 202, "height": 159, "title": {"text": "KAM", "offset": 4},
  "resolve": {"axis": {"x": "independent", "y": "independent"}},
  "layer": [
   {"data": {"name": "band"}, "transform": [{"filter": "datum.p=='A'"}], "mark": {"type": "area", "interpolate": "monotone", "color": "#e4e4e4"},
    "encoding": {"x": {"field": "x", "type": "quantitative", "scale": {"domain": [0, 100]}, "axis": {"values": [0,20,40,60,80,100], "title": "Percentage of the Stance Phase"}},
     "y": {"field": "lo", "type": "quantitative", "scale": {"domain": [-0.01, 0.04]}, "axis": {"values": [-0.01,-0.005,0,0.005,0.01,0.015,0.02,0.025,0.03,0.035,0.04], "format": "~g", "title": "Knee Adduction Moment (BW*Ht)", "minExtent": 24, "maxExtent": 24, "titlePadding": 2}},
     "y2": {"field": "hi"}}},
   {"data": {"name": "lines"}, "transform": [{"filter": "datum.p=='A'"}], "mark": {"type": "line", "interpolate": "monotone", "color": "black"},
    "encoding": {"x": {"field": "x", "type": "quantitative", "axis": {"orient": "top", "labels": false, "title": null, "values": [0,20,40,60,80,100]}},
     "y": {"field": "y", "type": "quantitative", "axis": {"orient": "right", "labels": false, "title": null, "values": [-0.01,-0.005,0,0.005,0.01,0.015,0.02,0.025,0.03,0.035,0.04]}},
     "strokeDash": {"field": "s", "type": "nominal", "scale": {"domain": ["C","E","D"], "range": [[1,0],[1,1.5],[6,3]]}, "legend": null},
     "strokeWidth": {"condition": {"test": "datum.s=='C'", "value": 1.5}, "value": 1.1}}}
  ]},
 {"width": 202, "height": 159, "title": {"text": "KRM", "offset": 4},
  "resolve": {"axis": {"x": "independent", "y": "independent"}},
  "layer": [
   {"data": {"name": "band"}, "transform": [{"filter": "datum.p=='R'"}], "mark": {"type": "area", "interpolate": "monotone", "color": "#e4e4e4"},
    "encoding": {"x": {"field": "x", "type": "quantitative", "scale": {"domain": [0, 100]}, "axis": {"values": [0,20,40,60,80,100], "title": "Percentage of the Stance Phase"}},
     "y": {"field": "lo", "type": "quantitative", "scale": {"domain": [-0.02, 0.02]}, "axis": {"values": [-0.02,-0.015,-0.01,-0.005,0,0.005,0.01,0.015,0.02], "format": "~g", "title": "Knee Internal Rotational Moment (BW*Ht)", "minExtent": 26, "maxExtent": 26, "titlePadding": 3}},
     "y2": {"field": "hi"}}},
   {"data": {"name": "lines"}, "transform": [{"filter": "datum.p=='R'"}], "mark": {"type": "line", "interpolate": "monotone", "color": "black"},
    "encoding": {"x": {"field": "x", "type": "quantitative", "axis": {"orient": "top", "labels": false, "title": null, "values": [0,20,40,60,80,100]}},
     "y": {"field": "y", "type": "quantitative", "axis": {"orient": "right", "labels": false, "title": null, "values": [-0.02,-0.015,-0.01,-0.005,0,0.005,0.01,0.015,0.02]}},
     "strokeDash": {"field": "s", "type": "nominal", "scale": {"domain": ["C","E","D"], "range": [[1,0],[1,1.5],[6,3]]}, "legend": {"title": null, "orient": "bottom-right", "labelExpr": "datum.label=='C'?'Control':datum.label=='E'?'Early OA':'Established OA'"}},
     "strokeWidth": {"condition": {"test": "datum.s=='C'", "value": 1.5}, "value": 1.1}}},
   {"data": {"name": "ann"}, "transform": [{"filter": "datum.p=='R' && datum.t=='*'"}], "mark": {"type": "text", "fontSize": 13, "dy": 7, "baseline": "alphabetic", "font": "DejaVu Sans", "color": "black"},
    "encoding": {"x": {"field": "x", "type": "quantitative", "axis": null}, "y": {"field": "y", "type": "quantitative", "axis": null}, "text": {"field": "t"}}},
   {"data": {"name": "ann"}, "transform": [{"filter": "datum.p=='R' && datum.t!='*'"}], "mark": {"type": "text", "fontSize": 10, "dy": 3.5, "baseline": "alphabetic", "color": "black"},
    "encoding": {"x": {"field": "x", "type": "quantitative", "axis": null}, "y": {"field": "y", "type": "quantitative", "axis": null}, "text": {"field": "t"}}}
  ]}
 ], "spacing": 53, "bounds": "flush", "resolve": {"scale": {"strokeDash": "independent"}, "legend": {"strokeDash": "independent"}}}
]
}
